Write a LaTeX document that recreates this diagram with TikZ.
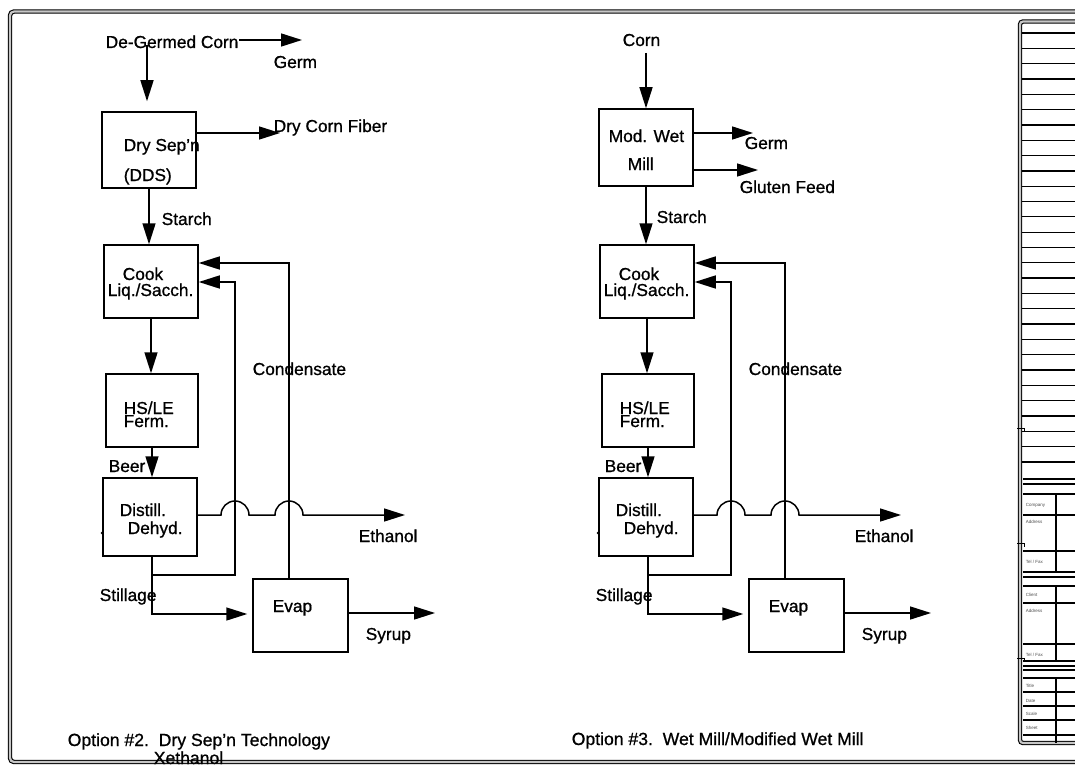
\documentclass[tikz,border=0pt]{standalone}
\usepackage{fontspec}
\setmainfont{Liberation Sans}[BoldFont=Liberation Sans,BoldFeatures={FakeBold=0.9}]
\usetikzlibrary{arrows.meta,calc}
\newcommand{\lblfont}{\fontsize{17.3}{17.3}\selectfont\bfseries}

\begin{document}
\begin{tikzpicture}[x=1pt,y=-1pt,line width=1.5pt,
  every node/.style={font=\lblfont,inner sep=0pt,text height=12pt,text depth=0pt},
  lbl/.style={anchor=west},
  box/.style={draw,minimum width=94pt,minimum height=74pt},
  flow/.style={-{Triangle[length=21pt,width=13pt]}},
  frameline/.style={line width=1.1pt,double=gray!45,double distance=2.2pt},
  tiny/.style={anchor=west,font=\fontsize{4.5}{5}\selectfont,text height=3.2pt,text=black!70}]
\useasboundingbox (0,0) rectangle (1075,765);
% sheet frame and title block
\draw[frameline,rounded corners=4pt] (1090,11.5) -| (10,762) -- (1090,762);
\draw[frameline,rounded corners=3pt] (1090,21.5) -- (1020,21.5) -- (1020,743) -- (1090,743);
\foreach \i in {0,...,28} \draw[line width=1.3pt] (1022,{33+15.32*\i}) -- (1080,{33+15.32*\i});
\foreach \yy in {479,484,494,515,551,572,577,586,603,644,661,666,670,678,692,706,720,735}
  \draw[line width=1.1pt] (1023,\yy) -- (1080,\yy);
\draw[line width=1.1pt] (1056,494) -- (1056,572) (1056,586) -- (1056,661) (1056,678) -- (1056,743);
\foreach \yy in {428,543,658} \draw[line width=1pt] (1017,\yy) -- (1024,\yy) -- (1024,{\yy+4});
\node[tiny] (tb1) at (1025,505) {Company}; \node[tiny] (tb2) at (1025,522) {Address};
\node[tiny] (tb3) at (1025,562) {Tel / Fax}; \node[tiny] (tb4) at (1025,595) {Client};
\node[tiny] (tb5) at (1025,611) {Address}; \node[tiny] (tb6) at (1025,655) {Tel / Fax};
\node[tiny] (tb7) at (1025,686) {Title}; \node[tiny] (tb8) at (1025,701) {Date};
\node[tiny] (tb9) at (1025,714) {Scale}; \node[tiny] (tb10) at (1025,728) {Sheet};

% the common back end of both options (cook, ferm., distill., evap)
\foreach \k/\dx in {2/0,3/496}{
\begin{scope}[xshift=\dx]
\node[box,minimum height=73pt] (cook\k) at (151,281.5) {};
\node[box,minimum width=92pt,minimum height=73pt] (ferm\k) at (152,410.5) {};
\node[box,minimum height=78pt] (dist\k) at (150,517) {};
\node[box,minimum width=95pt,minimum height=73pt] (evap\k) at (300.5,615.5) {};
\node[lbl] (cookA\k) at (122,274) {Cook}; \node[lbl] (cookB\k) at (107,290) {Liq./Sacch.};
\node[lbl] (fermA\k) at (123,408) {HS/LE}; \node[lbl] (fermB\k) at (123,421) {Ferm.};
\node[lbl] (distA\k) at (119,510) {Distill.}; \node[lbl] (distB\k) at (127,528) {Dehyd.};
\node[lbl] (evapA\k) at (272,606) {Evap};
\node[lbl] (cond\k) at (252,369) {Condensate};
\node[lbl] (beer\k) at (108,466) {Beer};
\node[lbl] (etoh\k) at (358,536) {Ethanol};
\node[lbl] (still\k) at (99,595) {Stillage};
\node[lbl] (syrup\k) at (365,634) {Syrup};
\coordinate (j\k) at (152,575); \coordinate (ca\k) at (235,282); \coordinate (cb\k) at (289,263);
\draw[flow] (cook\k.south) -- (cook\k.south |- ferm\k.north);
\draw[flow] (ferm\k.south) -- (ferm\k.south |- dist\k.north);
\draw[flow] (dist\k.east |- 0,515) -- (221,515) arc[start angle=180,end angle=0,radius=14pt]
  -- (275,515) arc[start angle=180,end angle=0,radius=14pt] -- (405,515);
\draw[flow,shorten >=5pt] (dist\k.south -| j\k) -- (j\k |- 0,614) -- (evap\k.west |- 0,614);
\draw[flow] (j\k) -- (ca\k |- j\k) -- (ca\k) -- (cook\k.east |- ca\k);
\draw[flow] (evap\k.north -| cb\k) -- (cb\k) -- (cook\k.east |- cb\k);
\draw[flow] (evap\k.east |- 0,613) -- (435,613);
\fill (dist\k.west |- 0,533) circle[radius=1.6pt];
\end{scope}}

% option 2: dry separation front end
\node[box,minimum height=76pt] (dds) at (149,150) {};
\node[lbl] (corn2) at (105,42) {De-Germed Corn}; \node[lbl] (germ2) at (273,62) {Germ};
\node[lbl] (ddsA) at (123,145) {Dry Sep'n}; \node[lbl] (ddsB) at (123,175) {(DDS)};
\node[lbl] (fiber) at (273,126) {Dry Corn Fiber};
\node[lbl] (starch2) at (161,219) {Starch};
\coordinate (in2) at (147,45);
\draw[flow,shorten >=10pt] (in2) -- (in2 |- dds.north);
\draw[flow] (corn2.east |- 0,40) -- (302,40);
\draw[flow] (dds.east |- 0,133) -- (280,133);
\draw[flow] (dds.south) -- (dds.south |- cook2.north);
\node[lbl,font=\fontsize{17.6}{17.6}\selectfont\bfseries] (cap2) at (67,740) {Option \#2.\ \ Dry Sep'n Technology};
\node[lbl,font=\fontsize{17.6}{17.6}\selectfont\bfseries] (cap2b) at (153,758) {Xethanol};

% option 3: (modified) wet mill front end
\node[box,minimum height=77pt] (mill) at (646,147.5) {};
\node[lbl] (corn3) at (622,40) {Corn};
\node[lbl] (millA) at (608,136) {Mod. Wet}; \node[lbl] (millB) at (627,164) {Mill};
\node[lbl] (germ3) at (744,143) {Germ}; \node[lbl] (gluten) at (739,187) {Gluten Feed};
\node[lbl] (starch3) at (656,217) {Starch};
\coordinate (in3) at (646,53);
\draw[flow] (in3) -- (in3 |- mill.north);
\draw[flow] (mill.east |- 0,133) -- (753,133);
\draw[flow] (mill.east |- 0,170) -- (758,170);
\draw[flow] (mill.south) -- (mill.south |- cook3.north);
\node[lbl,font=\fontsize{17.6}{17.6}\selectfont\bfseries] (cap3) at (571,739) {Option \#3.\ \ Wet Mill/Modified Wet Mill};
\end{tikzpicture}
\end{document}
